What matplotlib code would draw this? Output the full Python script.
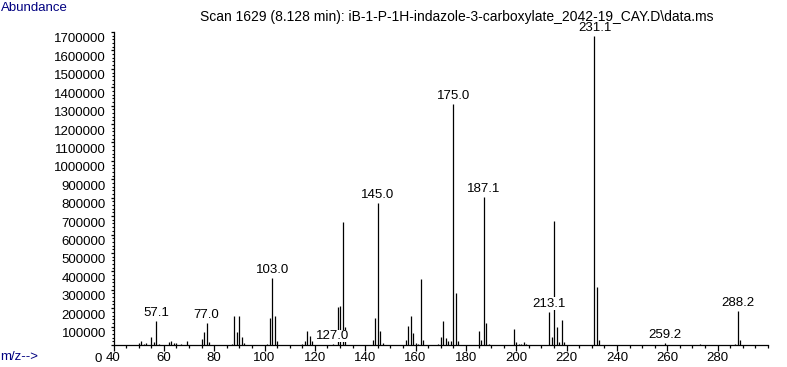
import numpy as np
import matplotlib
matplotlib.use("Agg")
import matplotlib.pyplot as plt
import matplotlib.ticker as mticker
import matplotlib.transforms as mtransforms

plt.rcParams['font.family'] = ['Liberation Sans', 'DejaVu Sans']
plt.rcParams['font.size'] = 9

# ---- data ----
mz = [50, 51, 52, 53, 55, 56, 57, 58, 62, 63, 64, 65, 67, 69,
      75, 76, 77, 78, 87, 88, 89, 90, 91, 92,
      101, 102, 103, 104, 105, 115, 116, 117, 118, 119, 127,
      129, 130, 131, 132, 143, 144, 145, 146, 147,
      156, 157, 158, 159, 160, 161, 162, 163,
      169, 170, 171, 172, 173, 174, 175, 176, 177,
      185, 186, 187, 188, 189, 199, 200, 201, 202, 203, 204,
      213, 214, 215, 216, 217, 218, 219, 231, 232, 233,
      259, 273, 287, 288, 289]
abundance = [10000, 23000, 6000, 11000, 45000, 18000, 132000, 5000, 14000, 20000, 9000, 9000, 5000, 20000,
             31000, 69000, 118000, 14000, 7000, 156000, 69000, 156000, 45000, 9000,
             5000, 145000, 363000, 159000, 20000, 5000, 20000, 78000, 51000, 24000, 5000,
             205000, 214000, 669000, 100000, 29000, 145000, 770000, 78000, 9000,
             29000, 105000, 159000, 63000, 9000, 5000, 357000, 29000,
             5000, 45000, 132000, 38000, 20000, 20000, 1308000, 282000, 24000,
             74000, 29000, 805000, 118000, 7000, 89000, 14000, 5000, 7000, 18000, 5000,
             181000, 45000, 673000, 100000, 14000, 138000, 14000, 1678000, 313000, 29000,
             10000, 4000, 7000, 186000, 29000]

label_mz = [57.1, 77.0, 103.0, 127.0, 145.0, 175.0, 187.1, 213.1, 231.1, 259.2, 288.2]

x_ticks = list(range(40, 281, 20))
y_ticks = list(range(0, 1700001, 100000))

title = "Scan 1629 (8.128 min): iB-1-P-1H-indazole-3-carboxylate_2042-19_CAY.D\\data.ms"

# ---- figure ----
W, H = 787, 367
fig = plt.figure(figsize=(W / 100, H / 100), dpi=100)
ax = fig.add_axes([113.5 / W, (H - 345) / H, (768 - 113.5) / W, 313 / H])

ax.vlines(mz, 0, abundance, colors='black', linewidth=0.9, zorder=2)

peak_height = dict(zip(mz, abundance))
for lm in label_mz:
    h = peak_height[int(round(lm))]
    ax.annotate("%.1f" % lm, (lm, h), xytext=(0, 1.5), textcoords='offset points',
                ha='center', va='bottom', fontsize=9.5, zorder=5,
                bbox=dict(facecolor='white', edgecolor='none', pad=0.3))

ax.set_xlim(40, 300)
ax.set_ylim(0, 1700000)

for s in ['top', 'right']:
    ax.spines[s].set_visible(False)
ax.spines['left'].set_linewidth(0.9)
ax.spines['bottom'].set_linewidth(0.9)

ax.xaxis.set_major_locator(mticker.FixedLocator(x_ticks))
ax.xaxis.set_minor_locator(mticker.MultipleLocator(5))
ax.yaxis.set_major_locator(mticker.FixedLocator(y_ticks))
ax.yaxis.set_minor_locator(mticker.MultipleLocator(20000))
ax.yaxis.set_major_formatter(mticker.StrMethodFormatter('{x:.0f}'))

ax.tick_params(axis='x', which='major', length=4, width=0.9, pad=1, labelsize=9.5)
ax.tick_params(axis='x', which='minor', length=2.5, width=0.9)
ax.tick_params(axis='y', which='major', length=2.5, width=0.9, pad=3, labelsize=9.5)
ax.tick_params(axis='y', which='minor', length=1.5, width=0.8)

# y labels sit a little below their ticks, the 0 further down and left
for lbl, v in zip(ax.get_yticklabels(), y_ticks):
    dx, dy = (-4, -12) if v == 0 else (0, -6)
    off = mtransforms.ScaledTranslation(dx / 100, dy / 100, fig.dpi_scale_trans)
    lbl.set_transform(lbl.get_transform() + off)

ax.text(200 / W, 1 - 17 / H, title, transform=fig.transFigure, ha='left', va='center',
        fontsize=10, zorder=1, clip_on=False)

fig.text(0.5 / W, 1 - 8 / H, "Abundance", color='#000080', ha='left', va='center', fontsize=9.5)
fig.text(0.5 / W, 1 - 357 / H, "m/z-->", color='#000080', ha='left', va='center', fontsize=9.5)

fig.savefig("out.png", dpi=100)
